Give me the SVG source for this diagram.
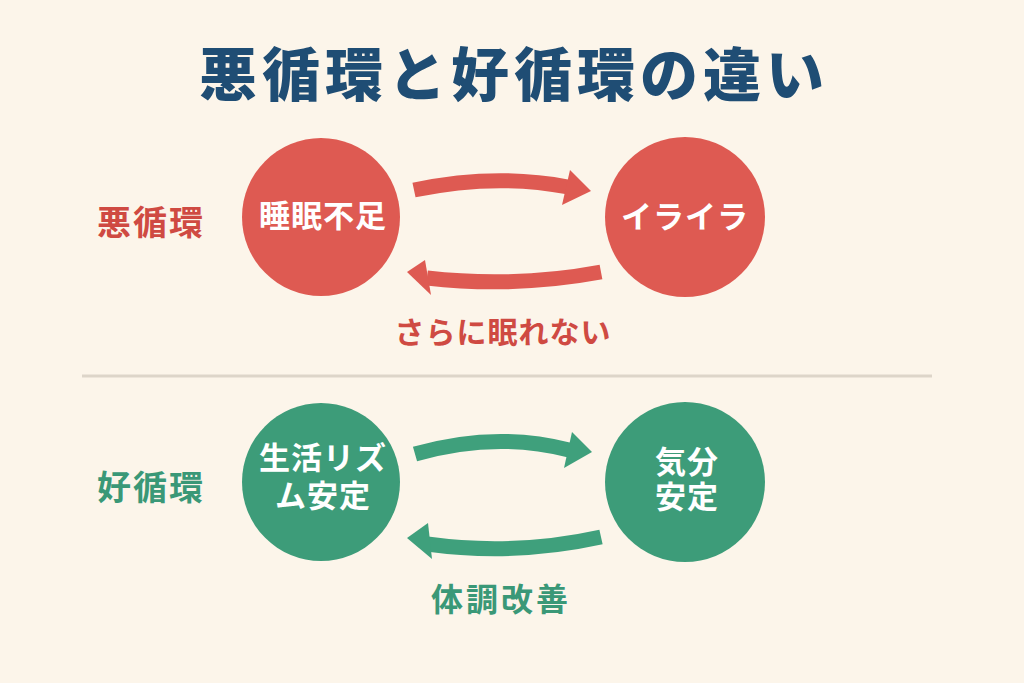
<svg xmlns="http://www.w3.org/2000/svg" width="1024" height="683" viewBox="0 0 1024 683">
<style>
text{font-family:"Noto Sans CJK JP","Noto Sans",sans-serif;font-weight:700;text-anchor:middle}
.title{font-size:58px;fill:#1f4d74;letter-spacing:5px;font-weight:900}
.side{font-size:34px;letter-spacing:2px}
.node{font-size:31px;fill:#ffffff;letter-spacing:1px}
.red{fill:#de5a52}
.grn{fill:#3d9c79}
.rtx{fill:#cf4a42}
.gtx{fill:#3a9877}
.rsh{fill:none;stroke:#de5a52;stroke-width:15}
.gsh{fill:none;stroke:#3fa07c;stroke-width:15}
</style>
<rect width="1024" height="683" fill="#fcf5ea"/>
<text class="title" x="514" y="96">悪循環と好循環の違い</text>
<line x1="82" y1="376" x2="932" y2="376" stroke="#ddd5c9" stroke-width="3"/>
<g id="label-bad"><text class="side rtx" x="151" y="235">悪循環</text></g>
<g id="label-good"><text class="side gtx" x="151" y="500">好循環</text></g>
<g id="node-sleep"><circle class="red" cx="321" cy="217" r="79"/><text class="node" x="323" y="227">睡眠不足</text></g>
<g id="node-irritation"><circle class="red" cx="685" cy="217" r="80"/><text class="node" x="685" y="228">イライラ</text></g>
<g id="node-rhythm"><circle class="grn" cx="321" cy="482" r="79"/><text class="node" x="323" y="469">生活リズ</text><text class="node" x="323" y="507">ム安定</text></g>
<g id="node-mood"><circle class="grn" cx="685" cy="482" r="80"/><text class="node" x="687" y="473">気分</text><text class="node" x="687" y="508">安定</text></g>
<g id="connectors">
<path class="rsh" d="M414,190 Q495,173 568,187"/>
<polygon fill="#de5a52" points="591,191 570,170 562,205"/>
<path class="rsh" d="M601,272 Q515,288 427,278"/>
<polygon fill="#de5a52" points="407,272 425,260 431,295"/>
<path class="gsh" d="M415,454 Q495,431 569,450"/>
<polygon fill="#3fa07c" points="592,452 572,432 564,468"/>
<path class="gsh" d="M601,537 Q515,556 427,544"/>
<polygon fill="#3fa07c" points="407,538 428,523 432,559"/>
</g>
<g id="label-bad-loop"><text class="rtx" x="503" y="343" style="font-size:30px;letter-spacing:1px">さらに眠れない</text></g>
<g id="label-good-loop"><text class="gtx" x="501" y="611" style="font-size:32px;letter-spacing:3px">体調改善</text></g>
</svg>
